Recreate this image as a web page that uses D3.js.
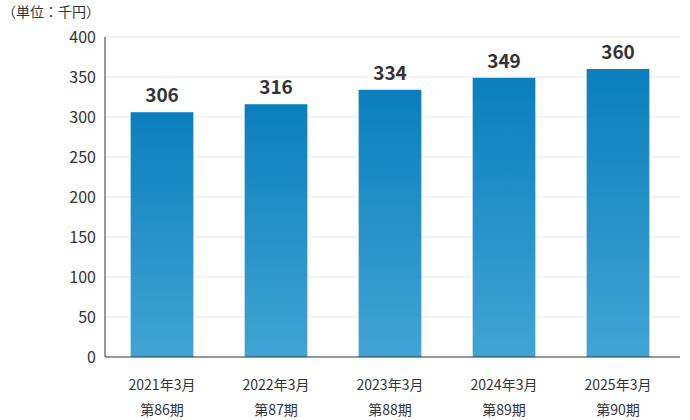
<!DOCTYPE html>
<html><head><meta charset="utf-8">
<script src="https://cdn.jsdelivr.net/npm/d3@7"></script>
<style>
body{margin:0;background:#fff;font-family:"Noto Sans CJK JP","Noto Sans",sans-serif;}
</style></head>
<body><div id="chart"></div>
<script>
const years = ["2021年3月", "2022年3月", "2023年3月", "2024年3月", "2025年3月"];
const periods = ["第86期", "第87期", "第88期", "第89期", "第90期"];
const values = [306, 316, 334, 349, 360];
const yTicks = [0, 50, 100, 150, 200, 250, 300, 350, 400];

const W = 690, H = 420;
const svg = d3.select("#chart").append("svg").attr("width", W).attr("height", H);

const x = d3.scaleBand().domain(years).range([105, 675]).paddingInner(0.45).paddingOuter(0.225);
const y = d3.scaleLinear().domain([0, 400]).range([357, 37]);

// gradient
const grad = svg.append("defs").append("linearGradient")
	.attr("id", "bar").attr("x1", 0).attr("y1", 0).attr("x2", 0).attr("y2", 1);
grad.append("stop").attr("offset", "0%").attr("stop-color", "#0a7fbd");
grad.append("stop").attr("offset", "100%").attr("stop-color", "#41a4d4");

// grid
svg.append("g").selectAll("line").data(yTicks.slice(1)).enter().append("line")
	.attr("x1", 105).attr("x2", 680)
	.attr("y1", d => y(d)).attr("y2", d => y(d))
	.attr("stroke", "#e6e6e6");

// y axis labels
svg.append("g").selectAll("text").data(yTicks).enter().append("text")
	.attr("x", 96).attr("y", d => y(d)).attr("dy", "0.35em")
	.attr("text-anchor", "end").attr("font-size", 16).attr("fill", "#333")
	.text(d => d);

// bars
svg.append("g").selectAll("rect").data(values).enter().append("rect")
	.attr("x", (d, i) => x(years[i])).attr("width", x.bandwidth())
	.attr("y", d => y(d)).attr("height", d => y(0) - y(d))
	.attr("fill", "url(#bar)");

// value labels
svg.append("g").selectAll("text").data(values).enter().append("text")
	.attr("x", (d, i) => x(years[i]) + x.bandwidth() / 2)
	.attr("y", d => y(d) - 10)
	.attr("text-anchor", "middle").attr("font-size", 19).attr("font-weight", "bold").attr("fill", "#333")
	.text(d => d);

// axes lines
svg.append("line").attr("x1", 105).attr("x2", 105).attr("y1", 37).attr("y2", 357).attr("stroke", "#333");
svg.append("line").attr("x1", 105).attr("x2", 680).attr("y1", 357).attr("y2", 357).attr("stroke", "#333");

// x labels
const xl = svg.append("g").selectAll("text").data(years).enter().append("text")
	.attr("text-anchor", "middle").attr("font-size", 14).attr("fill", "#333");
xl.append("tspan").attr("x", d => x(d) + x.bandwidth() / 2).attr("y", 390).text(d => d);
xl.append("tspan").attr("x", d => x(d) + x.bandwidth() / 2).attr("y", 415).text((d, i) => periods[i]);

svg.append("text").attr("x", 2).attr("y", 17).attr("font-size", 14).attr("fill", "#333").text("（単位：千円）");
</script></body></html>
